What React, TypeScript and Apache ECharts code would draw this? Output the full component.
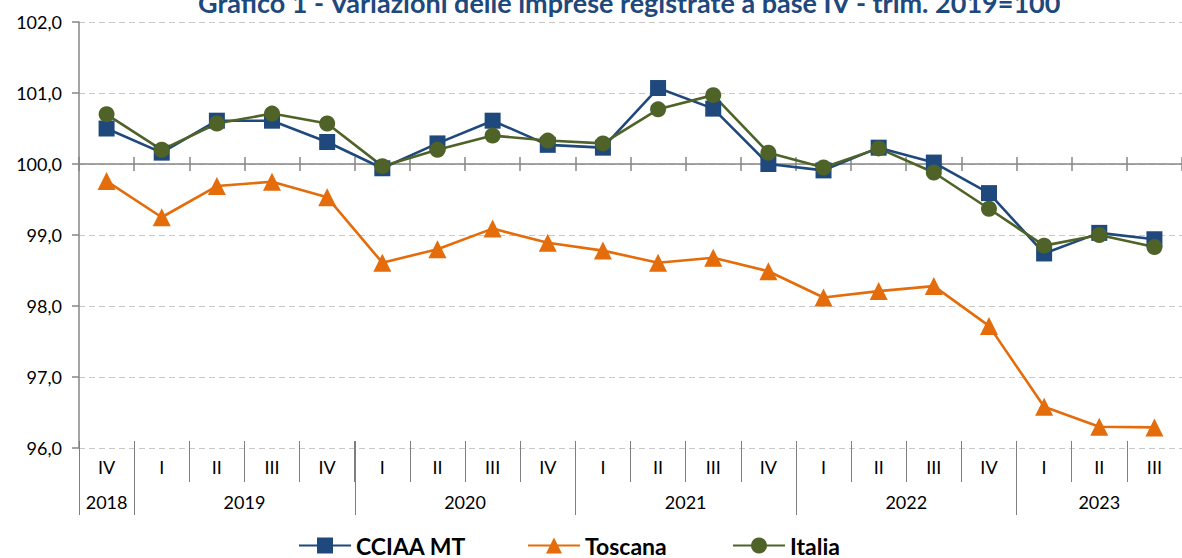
import React, { useEffect, useRef } from "react";
import * as echarts from "echarts";

const titleText = "Grafico 1 - Variazioni delle imprese registrate a base IV - trim. 2019=100";
const quarters = ["IV", "I", "II", "III", "IV", "I", "II", "III", "IV", "I", "II", "III", "IV", "I", "II", "III", "IV", "I", "II", "III"];
const years = ["2018", "2019", "2020", "2021", "2022", "2023"];
const quartersPerYear = [1, 4, 4, 4, 4, 3];
const seriesNames = ["CCIAA MT", "Toscana", "Italia"];

const cciaaMT = [100.5, 100.16, 100.61, 100.61, 100.31, 99.94, 100.29, 100.61, 100.27, 100.23, 101.07, 100.78, 100.0, 99.91, 100.23, 100.02, 99.59, 98.74, 99.03, 98.94];
const toscana = [99.76, 99.25, 99.69, 99.75, 99.53, 98.61, 98.8, 99.09, 98.89, 98.78, 98.61, 98.68, 98.49, 98.12, 98.21, 98.28, 97.72, 96.58, 96.3, 96.29];
const italia = [100.7, 100.2, 100.57, 100.71, 100.57, 99.97, 100.2, 100.4, 100.33, 100.29, 100.77, 100.97, 100.16, 99.95, 100.22, 99.88, 99.37, 98.85, 99.0, 98.83];

const yMin = 96;
const yMax = 102;
const yStep = 1;
const baseLine = 100;

const FONT = "Lato";

export default function App() {
  const ref = useRef<HTMLDivElement>(null);
  useEffect(() => {
    if (!ref.current) return;
    const chart = echarts.init(ref.current, undefined, { renderer: "svg" });

    const boundaries: number[] = [0];
    const centers: number[] = [];
    quartersPerYear.forEach((n) => {
      const start = boundaries[boundaries.length - 1];
      centers.push(start + n / 2);
      boundaries.push(start + n);
    });

    const gridTop = 22;
    const gridHeight = 426;
    const baseOffset = -((baseLine - yMin) / (yMax - yMin)) * gridHeight;

    const axisGray = "#868686";
    const sepGray = "#7f7f7f";

    const legendLefts = [293, 522, 727];
    const legends = seriesNames.map((name, i) => ({
      data: [name],
      left: legendLefts[i],
      top: 529,
      itemWidth: 52,
      itemHeight: 20,
      textStyle: { fontFamily: FONT, fontWeight: "bold", fontSize: 23, color: "#000" },
    }));

    const option: any = {
      animation: false,
      title: {
        text: titleText,
        left: 193,
        top: -16,
        textStyle: { fontFamily: FONT, fontWeight: "bold", fontSize: 27, color: "#1F497D" },
      },
      legend: legends,
      grid: { left: 79, top: gridTop, right: -9, height: gridHeight, containLabel: false },
      xAxis: [
        {
          type: "category",
          data: quarters,
          position: "bottom",
          offset: -7,
          boundaryGap: true,
          axisLine: { show: false },
          axisTick: { show: true, interval: 0, length: 41, lineStyle: { color: sepGray, width: 1 } },
          axisLabel: { interval: 0, margin: 17, fontFamily: FONT, fontSize: 18, color: "#000" },
          splitLine: { show: false },
        },
        {
          type: "value",
          min: 0,
          max: quarters.length,
          position: "bottom",
          offset: -7,
          axisLine: { show: false },
          axisTick: { show: true, customValues: boundaries, length: 74, lineStyle: { color: sepGray, width: 1 } },
          axisLabel: {
            show: true,
            customValues: centers,
            margin: 52,
            fontFamily: FONT,
            fontSize: 18,
            color: "#000",
            formatter: (v: number) => {
              const i = centers.findIndex((c) => Math.abs(c - v) < 1e-6);
              return i >= 0 ? years[i] : "";
            },
          },
          splitLine: { show: false },
        },
        {
          type: "category",
          data: quarters,
          position: "bottom",
          offset: baseOffset,
          axisLine: { show: true, lineStyle: { color: axisGray, width: 1.5 } },
          axisTick: { show: true, interval: 0, length: 7, inside: false, lineStyle: { color: axisGray, width: 1.5 } },
          axisLabel: { show: false },
          splitLine: { show: false },
        },
        {
          type: "category",
          data: quarters,
          position: "bottom",
          offset: baseOffset,
          axisLine: { show: false },
          axisTick: { show: true, interval: 0, length: 7, inside: true, lineStyle: { color: axisGray, width: 1.5 } },
          axisLabel: { show: false },
          splitLine: { show: false },
        },
      ],
      yAxis: {
        type: "value",
        min: yMin,
        max: yMax,
        interval: yStep,
        axisLine: { show: true, lineStyle: { color: axisGray, width: 1.5 } },
        axisTick: { show: true, length: 7, lineStyle: { color: axisGray, width: 1.5 } },
        axisLabel: {
          margin: 17,
          fontFamily: FONT,
          fontSize: 18,
          color: "#000",
          formatter: (v: number) => v.toFixed(1).replace(".", ","),
        },
        splitLine: { show: true, lineStyle: { color: "#c8c8c8", type: [6, 4], width: 1.2 } },
      },
      series: [
        {
          name: seriesNames[0],
          type: "line",
          xAxisIndex: 0,
          data: cciaaMT,
          symbol: "rect",
          symbolSize: 16,
          color: "#1F497D",
          lineStyle: { width: 2.6, color: "#1F497D" },
          itemStyle: { color: "#1F497D" },
        },
        {
          name: seriesNames[1],
          type: "line",
          xAxisIndex: 0,
          data: toscana,
          symbol: "triangle",
          symbolSize: 18,
          color: "#E46C0A",
          lineStyle: { width: 2.6, color: "#E46C0A" },
          itemStyle: { color: "#E46C0A" },
        },
        {
          name: seriesNames[2],
          type: "line",
          xAxisIndex: 0,
          data: italia,
          symbol: "circle",
          symbolSize: 16,
          color: "#4F6228",
          lineStyle: { width: 2.6, color: "#4F6228" },
          itemStyle: { color: "#4F6228" },
        },
      ],
    };
    chart.setOption(option);
    return () => chart.dispose();
  }, []);
  return <div ref={ref} style={{ position: "fixed", left: 0, top: 0, width: 1182, height: 558, background: "#fff" }} />;
}
